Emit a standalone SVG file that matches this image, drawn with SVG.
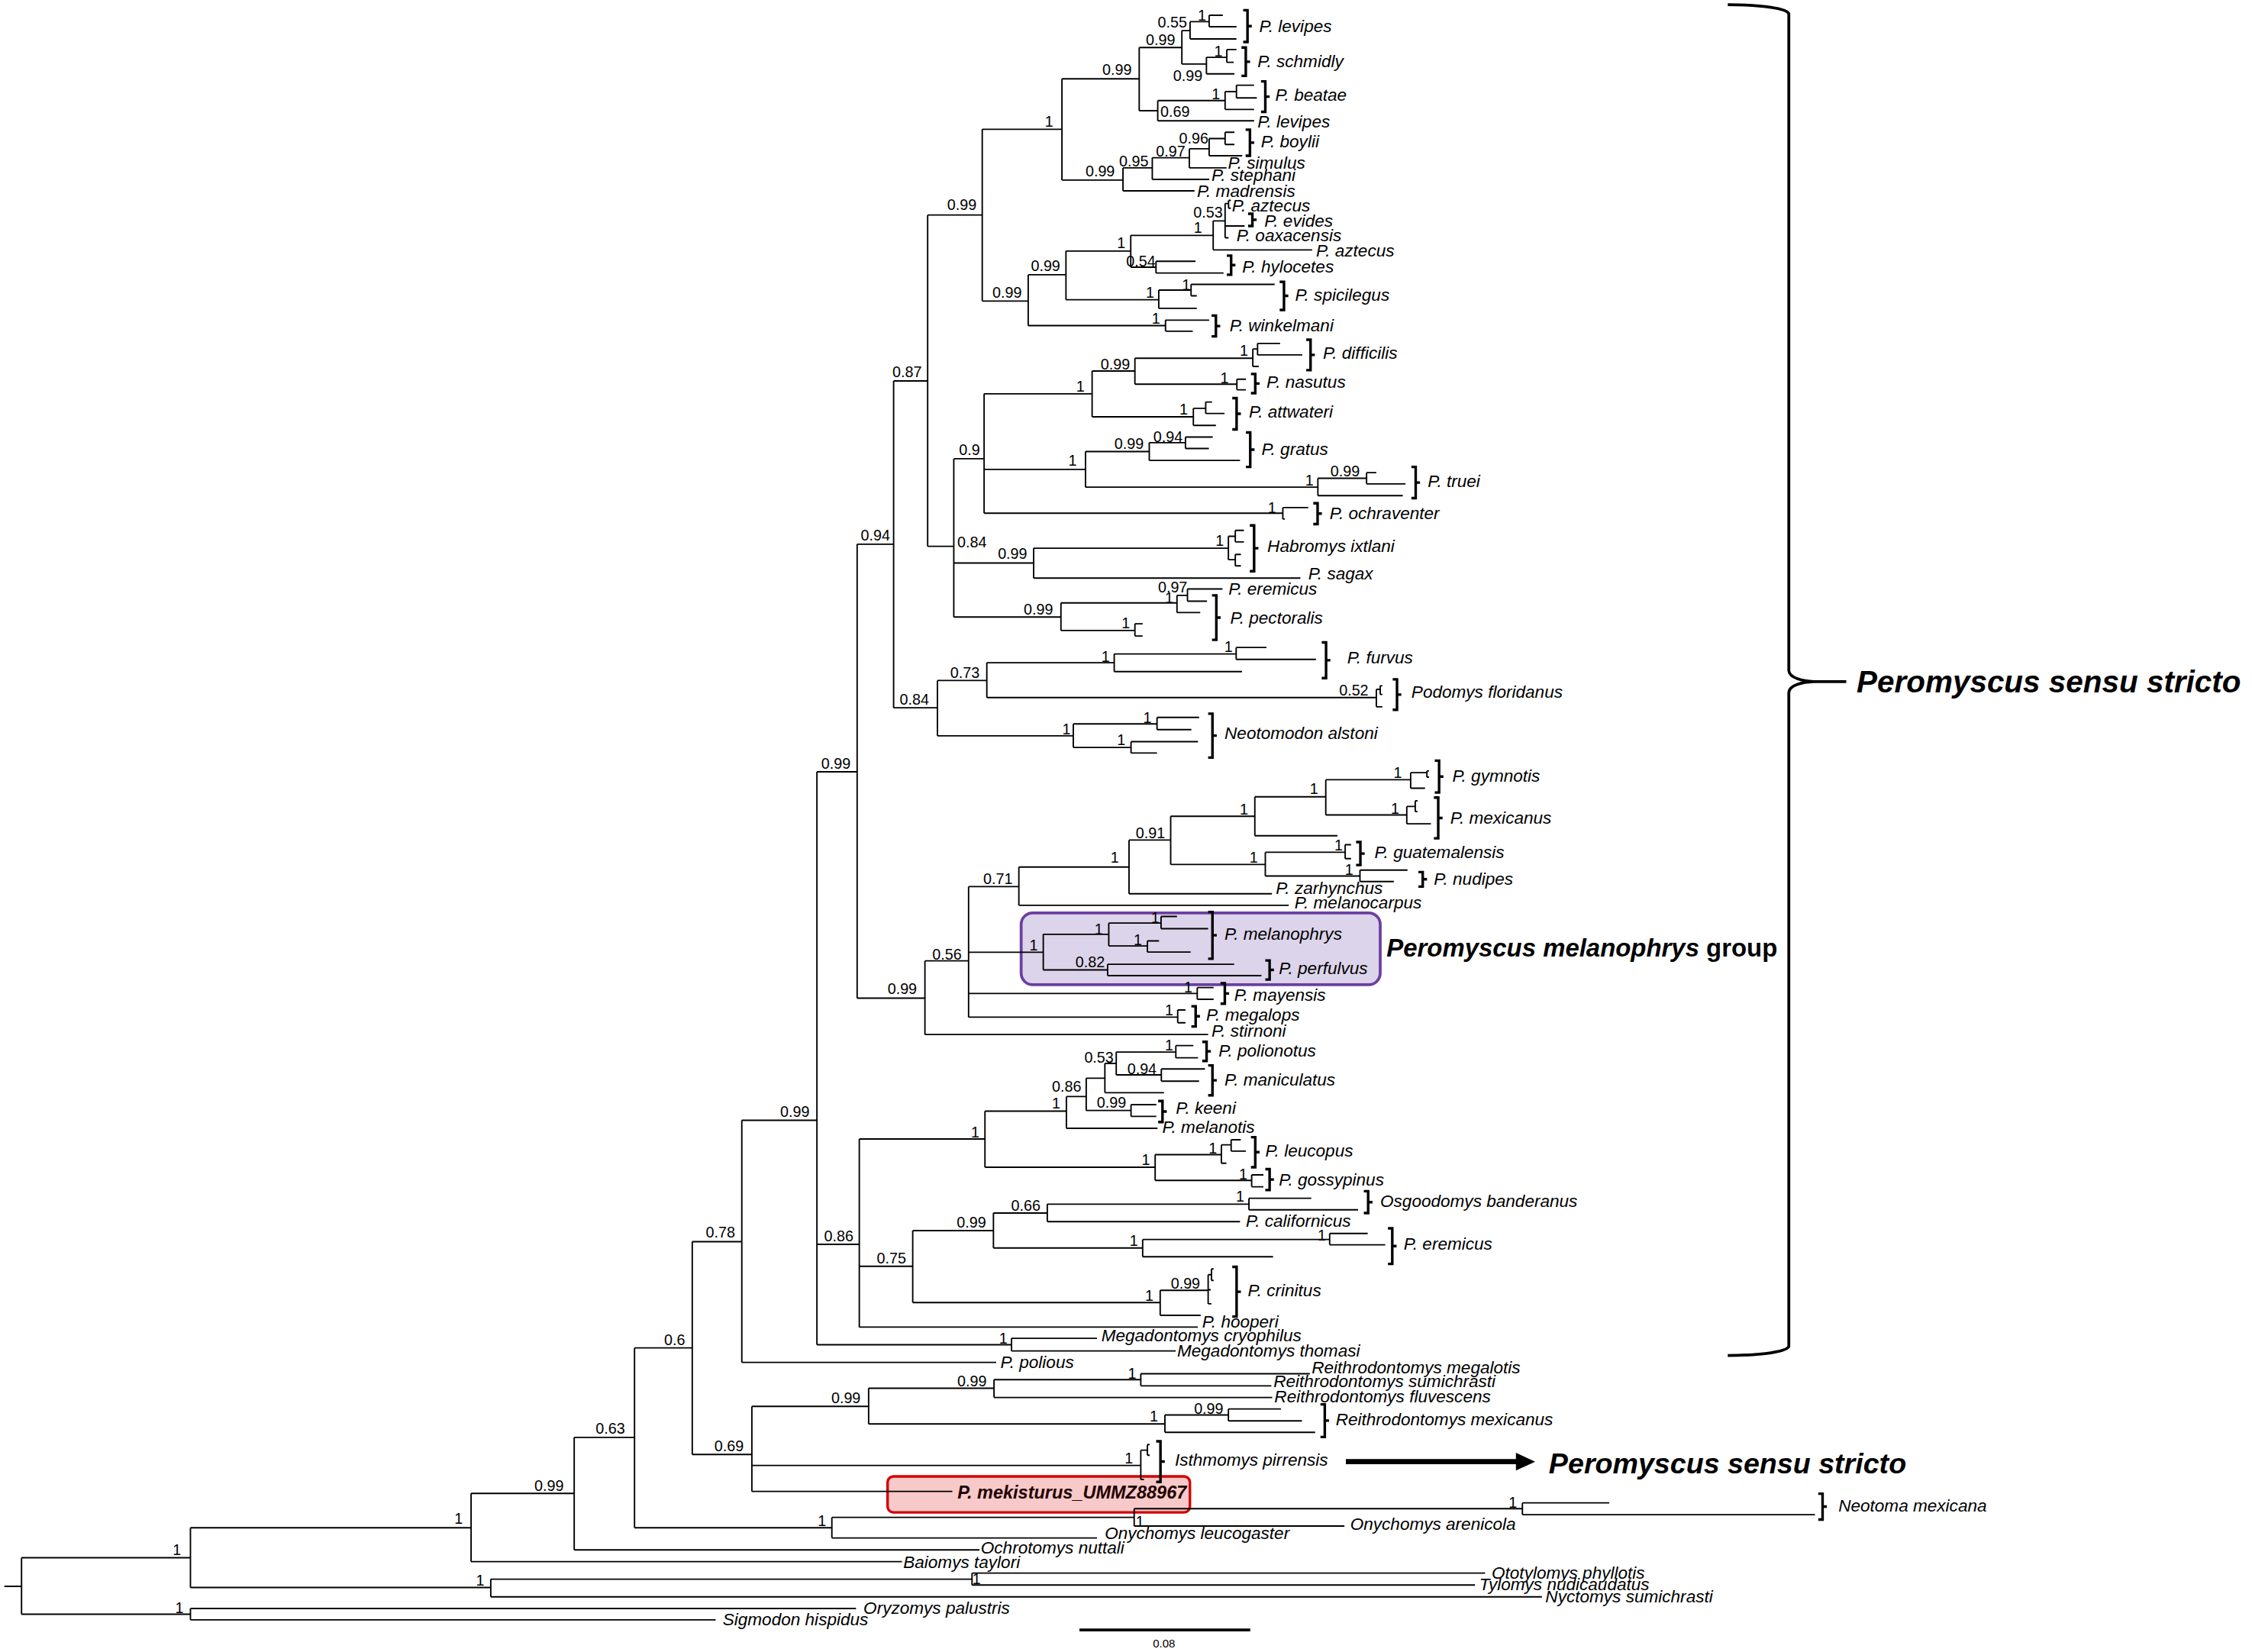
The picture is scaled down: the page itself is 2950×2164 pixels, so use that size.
<svg xmlns="http://www.w3.org/2000/svg" width="2950" height="2164" viewBox="0 0 2950 2164">
<style>
.t{font-family:"Liberation Sans",Arial,sans-serif;font-style:italic;font-size:12px;fill:#000}
.s{font-family:"Liberation Sans",Arial,sans-serif;font-size:10.5px;text-anchor:middle;fill:#000}
.e{fill:none;stroke:#000;stroke-width:1}
.br{fill:none;stroke:#000;stroke-width:1.8}
.big{font-family:"Liberation Sans",Arial,sans-serif;font-weight:bold;font-style:italic;fill:#000}
</style>
<rect width="2950" height="2164" fill="#fff"/>
<g transform="scale(1.88138)">
<g id="boxes">
<rect x="711" y="635.6" width="250" height="50" rx="8" fill="#dcd4ea" stroke="#6b3fa0" stroke-width="2"/>
<rect x="618" y="1028" width="210.5" height="25" rx="4" fill="#f7c9c9" stroke="#d40000" stroke-width="1.8"/>
</g>
<g id="connectors" class="e">
<path d="M3 1104.5H15M15 1084.6V1123.9M15 1084.6H132.6M15 1123.9H132.6M132.6 1063.7V1105.3M132.6 1063.7H328M132.6 1105.3H341.7M132.6 1119.9V1127.8M132.6 1119.9H596M132.6 1127.8H498.3M341.7 1099.5V1111.8M341.7 1099.5H676.8M341.7 1111.8H1073.6M676.8 1095.3V1103.6M676.8 1095.3H1034M676.8 1103.6H1027M328 1039.8V1087.3M328 1039.8H399.8M328 1087.3H628M399.8 1000.8V1079.1M399.8 1000.8H441.8M399.8 1079.1H682M441.8 938.5V1063.7M441.8 938.5H482M441.8 1063.7H579.2M579.2 1056.5V1070.8M579.2 1056.5H789.7M579.2 1070.8H763.8M789.7 1050.4V1062.5M789.7 1050.4H1060M789.7 1062.5H936.1M1060 1046.4V1054.6M1060 1046.4H1120.5M1060 1054.6H1263.7"/>
<path d="M482 864.5V1012.7M482 864.5H516.5M482 1012.7H523.5M523.5 979.2V1038.4M523.5 979.2H604.8M523.5 1020.3H794.3M523.5 1038.4H663.1M604.8 966.6V991.4M604.8 966.6H692.1M604.8 991.4H811.1M692.1 960.6V973M692.1 960.6H794.3M692.1 973H885.8M794.3 956.5V964.9M794.3 956.5H912M794.3 964.9H885.2M811.1 985.2V997.3M811.1 985.2H855.3M811.1 997.3H915.7M855.3 981V989.3M855.3 981H891.9M855.3 989.3H906.5M794.3 1009.7V1030.1M794.3 1009.7H798.9M794.3 1030.1H796.5M798.9 1005.8V1013.2M798.9 1005.8H800.5M798.9 1013.2H800.5"/>
<path d="M516.5 780V948.6M516.5 780H568.8M516.5 948.6H693.6M568.8 537.4V936.3M568.8 537.4H596.8M568.8 866.4H598.3M568.8 936.3H704.3M704.3 931.8V940.6M704.3 931.8H763.8M704.3 940.6H818.6M596.8 378.9V695M596.8 378.9H622.2M596.8 695H644M622.2 265.2V492.8M622.2 265.2H645.9M622.2 492.8H652.7M645.9 149.7V380.4M645.9 149.7H683.9M645.9 380.4H664.1"/>
<path d="M683.9 90V209.6M683.9 90H739.4M683.9 209.6H715.9M739.4 54.9V125.4M739.4 54.9H793.2M739.4 125.4H781.9M793.2 33.1V77.1M793.2 33.1H822.9M793.2 77.1H806.1M822.9 21.3V44.6M822.9 21.3H828.6M822.9 44.6H840M828.6 15.1V27.1M828.6 15.1H841.9M828.6 27.1H860.9M841.9 10.6V18.6M841.9 10.6H851.4M841.9 18.6H860.9M840 39.9V51.4M840 39.9H854.2M840 51.4H859.5M854.2 34.5V43.4M854.2 34.5H860.9M854.2 43.4H859M806.1 70V84.1M806.1 70H853M806.1 84.1H873.2M853 63.8V76.2M853 63.8H860.9M853 76.2H873.2M860.9 59.3V68.2M860.9 59.3H873.2M860.9 68.2H875.1M781.9 116.9V132.9M781.9 116.9H802.3M781.9 132.9H831.7M802.3 109.8V124.9M802.3 109.8H828.1M802.3 124.9H842M828.1 103.6V116.9M828.1 103.6H841.9M828.1 116.9H854M841.9 96.5V108.4M841.9 96.5H853M841.9 108.4H864.9M853 92.1V100.6M853 92.1H859.5M853 100.6H859.5"/>
<path d="M715.9 191.3V226.7M715.9 191.3H742.2M715.9 226.7H811.5M742.2 174.8V208.7M742.2 174.8H787.3M742.2 208.7H806.8M787.3 163.9V186M787.3 163.9H844.7M787.3 186H804.9M844.7 153.8V174M844.7 153.8H853M844.7 174H913.6M853 141.7V165.6M853 141.7H855.4M853 157.3H866.6M853 165.6H855.4M855.4 139.5V145M855.4 139.5H857M855.4 145H857M804.9 181.9V190.1M804.9 181.9H832.4M804.9 190.1H851.9M806.8 202V214.7M806.8 202H829.3M806.8 214.7H833.3M829.3 198V206M829.3 198H887.5M829.3 206H833.3M811.5 222.9V230.6M811.5 222.9H841.9M811.5 230.6H830.5"/>
<path d="M664.1 319.4V429.6M664.1 319.4H685.2M664.1 392H719.7M664.1 429.6H738.7M685.2 274.2V357.3M685.2 274.2H760.4M685.2 326.8H755.8M685.2 357.3H893.2M760.4 258.3V290.2M760.4 258.3H790.2M760.4 290.2H830.9M790.2 249.4V267.5M790.2 249.4H872.3M790.2 267.5H861.2M872.3 243V255.1M872.3 243H875.6M872.3 255.1H876.4M875.6 239.1V247.1M875.6 239.1H891.3M875.6 247.1H906.7M861.2 264V271.4M861.2 264H867.5M861.2 271.4H867.5M830.9 284.3V296.2M830.9 284.3H839.5M830.9 296.2H846.6M839.5 279.9V287.9M839.5 279.9H843.9M839.5 287.9H852.6M755.8 314.4V339.2M755.8 314.4H800.2M755.8 339.2H917.6M800.2 308.2V320.6M800.2 308.2H825.4M800.2 320.6H863.4M825.4 304.3V312.3M825.4 304.3H844.4M825.4 312.3H841.7M917.6 333V345.1M917.6 333H951.5M917.6 345.1H976.7M951.5 329.1V336.9M951.5 329.1H958.3M951.5 336.9H978.6M893.2 353.4V361.4M893.2 353.4H910.9M893.2 361.4H894.6M719.7 381.7V402.5M719.7 381.7H855.3M719.7 402.5H905.4M855.3 373.4V389.7M855.3 373.4H860.1M855.3 389.7H860.1M860.1 369.3V377.3M860.1 369.3H866.1M860.1 377.3H866.1M860.1 386V394M860.1 386H864M860.1 394H864M738.7 419.8V439M738.7 419.8H819.5M738.7 439H790.2M819.5 414.5V426.5M819.5 414.5H826.8M819.5 426.5H835.7M826.8 410.1V418.6M826.8 410.1H851.2M826.8 418.6H840.4M790.2 434.3V442.8M790.2 434.3H795.6M790.2 442.8H795.6"/>
<path d="M652.7 473.8V512.3M652.7 473.8H687.1M652.7 512.3H747.3M687.1 461.4V485.7M687.1 461.4H775.8M687.1 485.7H958.3M775.8 455.3V467.6M775.8 455.3H860.7M775.8 467.6H864.8M860.7 450.8V459.1M860.7 450.8H881.8M860.7 459.1H916.3M958.3 480V492.1M958.3 480H961M958.3 492.1H962.5M961 477.5V483.5M961 477.5H962.5M961 483.5H962.5M747.3 504V520.4M747.3 504H805.6M747.3 520.4H787.5M805.6 499.5V508M805.6 499.5H834.9M805.6 508H829.5M787.5 516.4V524.3M787.5 516.4H834.1M787.5 524.3H805.6"/>
<path d="M644 669V720.3M644 669H674.4M644 720.3H841.2M674.4 617.3V708.2M674.4 617.3H709.4M674.4 663H726.4M674.4 691.7H833.6M674.4 708.2H820M709.4 603.7V630.3M709.4 603.7H786.1M709.4 630.3H897.3M786.1 584.9V622.3M786.1 584.9H815.1M786.1 622.3H885.6M815.1 568.3V601.9M815.1 568.3H873.7M815.1 601.9H881M873.7 554.8V581.9M873.7 554.8H923.1M873.7 581.9H931.2M923.1 542.9V567.4M923.1 542.9H982.2M923.1 567.4H979.5M982.2 538V548.8M982.2 538H993.5M982.2 548.8H992.2M993.5 536.8V541.1M993.5 536.8H995M993.5 541.1H995M979.5 561.5V573.6M979.5 561.5H985.4M979.5 573.6H996.3M985.4 557.6V565.1M985.4 557.6H987M985.4 565.1H987M881 593.4V609.9M881 593.4H936.6M881 609.9H946.9M936.6 588.1V597.8M936.6 588.1H940.7M936.6 597.8H940.7M946.9 605.8V613.8M946.9 605.8H980M946.9 613.8H970.5M726.4 650.5V675.3M726.4 650.5H772M726.4 675.3H771.2M772 642.7V658.6M772 642.7H808.4M772 658.6H798.9M808.4 638.1V646.6M808.4 638.1H819.5M808.4 646.6H841.2M798.9 655.1V662.9M798.9 655.1H807M798.9 662.9H829M771.2 671.4V679.3M771.2 671.4H859.3M771.2 679.3H878.3M833.6 687.6V695.8M833.6 687.6H845M833.6 695.8H845M820 703.2V712.1M820 703.2H825.4M820 712.1H825.4"/>
<path d="M598.3 793V924M598.3 793H685.8M598.3 881.7H635.5M598.3 924H834M685.8 773.6V812.7M685.8 773.6H742.5M685.8 812.7H804.3M742.5 763.5V785.6M742.5 763.5H756.3M742.5 785.6H805.9M756.3 750.7V773.2M756.3 750.7H769.3M756.3 773.2H787.5M769.3 740.4V760.8M769.3 740.4H777.2M769.3 760.8H810.5M777.2 732.5V748.4M777.2 732.5H818.7M777.2 748.4H808.6M818.7 728V736.5M818.7 728H830.9M818.7 736.5H834.1M808.6 744.3V752.8M808.6 744.3H839M808.6 752.8H834.9M787.5 769.1V777.3M787.5 769.1H805.1M787.5 777.3H805.1M804.3 803.9V821.9M804.3 803.9H850.4M804.3 821.9H871.5M850.4 797.1V809.9M850.4 797.1H857.2M850.4 809.9H853.9M857.2 793.6V801.5M857.2 793.6H863.9M857.2 801.5H867.5M871.5 818V826.3M871.5 818H879.7M871.5 826.3H879.7M635.5 856.8V906.9M635.5 856.8H691.7M635.5 906.9H807.8M691.7 844.6V868.9M691.7 844.6H729.2M691.7 868.9H795.6M729.2 838.4V850.6M729.2 838.4H869.6M729.2 850.6H863.4M869.6 834.3V842.3M869.6 834.3H913M869.6 842.3H945.6M795.6 863V875M795.6 863H925.8M795.6 875H886.4M925.8 858.8V866.7M925.8 858.8H952.3M925.8 866.7H964.5M807.8 898.4V915.8M807.8 898.4H841.2M807.8 915.8H836M841.2 887.5V907.8M841.2 887.5H843.5M841.2 898H843M841.2 907.8H843.5M843.5 883.5V891.5M843.5 883.5H845M843.5 891.5H845"/>
</g>
<g id="support-values" class="s">
<text x="836.9" y="14.4">1</text><text x="816.3" y="19.4">0.55</text><text x="808" y="31.3">0.99</text><text x="848.3" y="39.2">1</text><text x="827" y="56.1">0.99</text><text x="777.8" y="52">0.99</text><text x="846.6" y="69.3">1</text><text x="818.2" y="81.2">0.69</text><text x="730.4" y="88.5">1</text><text x="831.2" y="100">0.96</text><text x="815.1" y="108.8">0.97</text><text x="789.5" y="115.9">0.95</text><text x="766" y="122.8">0.99</text><text x="669.7" y="146.3">0.99</text><text x="841.2" y="151.7">0.53</text><text x="834.1" y="162">1</text><text x="780.7" y="173">1</text><text x="794.4" y="185.4">0.54</text><text x="728" y="188.6">0.99</text><text x="825.8" y="202.2">1</text><text x="800.8" y="207.5">1</text><text x="701.2" y="207.2">0.99</text><text x="804.9" y="225.6">1</text>
<text x="866.1" y="247.9">1</text><text x="776.6" y="257.1">0.99</text><text x="852.6" y="266.9">1</text><text x="752.2" y="272.7">1</text><text x="631.6" y="262.8">0.87</text><text x="824.1" y="288.5">1</text><text x="813.2" y="307.6">0.94</text><text x="786.1" y="312.6">0.99</text><text x="675" y="316.8">0.9</text><text x="746.8" y="324.4">1</text><text x="936.6" y="331.5">0.99</text><text x="911.7" y="338.2">1</text><text x="885.6" y="357.2">1</text><text x="609.5" y="376.3">0.94</text><text x="676.8" y="380.9">0.84</text><text x="849.3" y="380.2">1</text><text x="705" y="389.3">0.99</text><text x="816.5" y="412.6">0.97</text><text x="814" y="420.1">1</text><text x="723" y="427.8">0.99</text><text x="783.9" y="437.4">1</text><text x="855.3" y="453.8">1</text><text x="769.8" y="460.8">1</text><text x="671.8" y="471.8">0.73</text><text x="636.6" y="490.7">0.84</text><text x="942.6" y="484.4">0.52</text><text x="798.9" y="503.3">1</text><text x="742.5" y="511.3">1</text><text x="780.7" y="518.9">1</text>
<text x="973.2" y="541.4">1</text><text x="914.9" y="552.9">1</text><text x="971.3" y="566.7">1</text><text x="866.1" y="567.1">1</text><text x="801" y="583.4">0.91</text><text x="932" y="591.9">1</text><text x="872.9" y="600.4">1</text><text x="776.1" y="600.4">1</text><text x="939.3" y="609.3">1</text><text x="694.8" y="615.6">0.71</text><text x="804.3" y="642.4">1</text><text x="765" y="650.4">1</text><text x="792.3" y="657.8">1</text><text x="719.7" y="661.9">1</text><text x="659.4" y="668.1">0.56</text><text x="759" y="673.4">0.82</text><text x="628.2" y="692.3">0.99</text><text x="827.3" y="691.1">1</text><text x="814" y="707">1</text>
<text x="582" y="535.5">0.99</text><text x="814" y="731.5">1</text><text x="765.2" y="739.8">0.53</text><text x="795.1" y="747.8">0.94</text><text x="742.7" y="760.2">0.86</text><text x="735.4" y="772">1</text><text x="773.9" y="771.3">0.99</text><text x="553.5" y="777.5">0.99</text><text x="679" y="792.1">1</text><text x="844.4" y="803">1</text><text x="797.8" y="811.2">1</text><text x="865.6" y="821.3">1</text><text x="863.4" y="836.7">1</text><text x="714.2" y="843.2">0.66</text><text x="676.4" y="854.8">0.99</text><text x="501.6" y="861.6">0.78</text><text x="584" y="864.5">0.86</text><text x="789.4" y="867.3">1</text><text x="920.3" y="863.8">1</text><text x="620.7" y="879.8">0.75</text><text x="825.4" y="897.1">0.99</text><text x="800.2" y="905.8">1</text><text x="698.6" y="935.3">1</text><text x="469.7" y="936.5">0.6</text>
<text x="788.2" y="960">1</text><text x="676.8" y="965.3">0.99</text><text x="589" y="976.8">0.99</text><text x="841.6" y="984.3">0.99</text><text x="803.4" y="989.6">1</text><text x="425" y="998.4">0.63</text><text x="507.6" y="1010.5">0.69</text><text x="786" y="1018.8">1</text><text x="382.3" y="1038.3">0.99</text><text x="1053.4" y="1049.7">1</text><text x="319.3" y="1061">1</text><text x="572.3" y="1062.7">1</text><text x="793.7" y="1063.1">1</text><text x="123.2" y="1082.6">1</text><text x="334.3" y="1103.8">1</text><text x="679.9" y="1102.9">1</text><text x="124.9" y="1123">1</text>
</g>
<g id="taxa">
<g id="t-levipes1"><path class="br" d="M865.6 7.1H868.6V29.2H865.6M868.6 18.2H871.6"/><text class="t" x="876.8" y="22.2">P. levipes</text></g>
<g id="t-schmidly"><path class="br" d="M864.4 33.1H867.4V52.8H864.4M867.4 43H870.4"/><text class="t" x="875.6" y="47">P. schmidly</text></g>
<g id="t-beatae"><path class="br" d="M878 56.7H881V77.9H878M881 67.3H884"/><text class="t" x="887.9" y="70.4">P. beatae</text></g>
<g id="t-levipes2"><text class="t" x="875.6" y="88.7">P. levipes</text></g>
<g id="t-boylii"><path class="br" d="M867.3 90.3H870.3V108.4H867.3M870.3 99.3H873.3"/><text class="t" x="878" y="102.8">P. boylii</text></g>
<g id="t-simulus"><text class="t" x="855" y="117.4">P. simulus</text></g>
<g id="t-stephani"><text class="t" x="843.6" y="126.2">P. stephani</text></g>
<g id="t-madrensis"><text class="t" x="833.4" y="136.9">P. madrensis</text></g>
<g id="t-aztecus1"><text class="t" x="857.8" y="147.1">P. aztecus</text></g>
<g id="t-evides"><path class="br" d="M869 148.8H872V157.3H869M872 153H875"/><text class="t" x="880.3" y="158.1">P. evides</text></g>
<g id="t-oaxacensis"><text class="t" x="860.9" y="168.2">P. oaxacensis</text></g>
<g id="t-aztecus2"><text class="t" x="916.4" y="178.5">P. aztecus</text></g>
<g id="t-hylocetes"><path class="br" d="M854.2 178H857.2V191.3H854.2M857.2 184.6H860.2"/><text class="t" x="864.9" y="190">P. hylocetes</text></g>
<g id="t-spicilegus"><path class="br" d="M891 196.3H894V215.8H891M894 206H897"/><text class="t" x="901.7" y="209.5">P. spicilegus</text></g>
<g id="t-winkelmani"><path class="br" d="M843.6 219.7H846.6V234.2H843.6M846.6 227H849.6"/><text class="t" x="856.1" y="230.7">P. winkelmani</text></g>
<g id="t-difficilis"><path class="br" d="M909.5 236.5H912.5V257.7H909.5M912.5 247.1H915.5"/><text class="t" x="921.2" y="249.9">P. difficilis</text></g>
<g id="t-nasutus"><path class="br" d="M871 260.4H874V273.7H871M874 267H877"/><text class="t" x="881.8" y="270.2">P. nasutus</text></g>
<g id="t-attwateri"><path class="br" d="M858 277.2H861V299H858M861 288.1H864"/><text class="t" x="869.6" y="291">P. attwateri</text></g>
<g id="t-gratus"><path class="br" d="M867.5 301.1H870.5V325.1H867.5M870.5 313.1H873.5"/><text class="t" x="878.3" y="316.7">P. gratus</text></g>
<g id="t-truei"><path class="br" d="M982.7 325.1H985.7V346.8H982.7M985.7 336H988.7"/><text class="t" x="994.1" y="339.2">P. truei</text></g>
<g id="t-ochraventer"><path class="br" d="M914.4 350.4H917.4V364.9H914.4M917.4 357.6H920.4"/><text class="t" x="925.8" y="361.3">P. ochraventer</text></g>
<g id="t-habromys"><path class="br" d="M870.2 365.8H873.2V397.7H870.2M873.2 381.7H876.2"/><text class="t" x="882.4" y="384.3">Habromys ixtlani</text></g>
<g id="t-sagax"><text class="t" x="910.9" y="403.5">P. sagax</text></g>
<g id="t-eremicus1"><text class="t" x="855.3" y="414.1">P. eremicus</text></g>
<g id="t-pectoralis"><path class="br" d="M843.9 414.5H846.9V445.5H843.9M846.9 430H849.9"/><text class="t" x="856.6" y="434.1">P. pectoralis</text></g>
<g id="t-furvus"><path class="br" d="M920.3 447.3H923.3V472.1H920.3M923.3 459.7H926.3"/><text class="t" x="938" y="461.9">P. furvus</text></g>
<g id="t-podomys"><path class="br" d="M969.7 473H972.7V494.2H969.7M972.7 483.6H975.7"/><text class="t" x="982.7" y="485.8">Podomys floridanus</text></g>
<g id="t-neotomodon"><path class="br" d="M841.2 496.9H844.2V527.5H841.2M844.2 512.2H847.2"/><text class="t" x="852.6" y="514.7">Neotomodon alstoni</text></g>
<g id="t-gymnotis"><path class="br" d="M999 529.6H1002V551.8H999M1002 540.7H1005"/><text class="t" x="1011.2" y="544.3">P. gymnotis</text></g>
<g id="t-mexicanus"><path class="br" d="M998.4 555.3H1001.4V583.7H998.4M1001.4 569.5H1004.4"/><text class="t" x="1009.8" y="573.5">P. mexicanus</text></g>
<g id="t-guatemalensis"><path class="br" d="M944.2 586.3H947.2V602.3H944.2M947.2 594.3H950.2"/><text class="t" x="957" y="597.4">P. guatemalensis</text></g>
<g id="t-nudipes"><path class="br" d="M987.6 607.2H990.6V617.3H987.6M990.6 612.2H993.6"/><text class="t" x="998.4" y="616">P. nudipes</text></g>
<g id="t-zarhynchus"><text class="t" x="888.3" y="622.2">P. zarhynchus</text></g>
<g id="t-melanocarpus"><text class="t" x="901.4" y="632.5">P. melanocarpus</text></g>
<g id="t-melanophrys"><path class="br" d="M841.2 635H844.2V667.5H841.2M844.2 651.2H847.2"/><text class="t" x="852.6" y="654.1">P. melanophrys</text></g>
<g id="t-perfulvus"><path class="br" d="M881 668.7H884V682H881M884 675.3H887"/><text class="t" x="890.5" y="678">P. perfulvus</text></g>
<g id="t-mayensis"><path class="br" d="M849.8 684.6H852.8V698.8H849.8M852.8 691.7H855.8"/><text class="t" x="859.3" y="696.6">P. mayensis</text></g>
<g id="t-megalops"><path class="br" d="M829.5 700.6H832.5V714.7H829.5M832.5 707.6H835.5"/><text class="t" x="839.8" y="710.4">P. megalops</text></g>
<g id="t-stirnoni"><text class="t" x="843.6" y="721.9">P. stirnoni</text></g>
<g id="t-polionotus"><path class="br" d="M837.1 725.4H840.1V738.7H837.1M840.1 732H843.1"/><text class="t" x="848.5" y="735.9">P. polionotus</text></g>
<g id="t-maniculatus"><path class="br" d="M841.2 741.8H844.2V762.6H841.2M844.2 752.2H847.2"/><text class="t" x="852.6" y="756">P. maniculatus</text></g>
<g id="t-keeni"><path class="br" d="M806.4 766.6H809.4V781.2H806.4M809.4 773.9H812.4"/><text class="t" x="818.7" y="775.4">P. keeni</text></g>
<g id="t-melanotis"><text class="t" x="809.2" y="788.7">P. melanotis</text></g>
<g id="t-leucopus"><path class="br" d="M871 791.8H874V812.7H871M874 802.2H877"/><text class="t" x="881" y="805.5">P. leucopus</text></g>
<g id="t-gossypinus"><path class="br" d="M881 814H884V828.6H881M884 821.3H887"/><text class="t" x="890.5" y="825.4">P. gossypinus</text></g>
<g id="t-osgoodomys"><path class="br" d="M949.6 829.4H952.6V844.6H949.6M952.6 837H955.6"/><text class="t" x="961" y="840.1">Osgoodomys banderanus</text></g>
<g id="t-californicus"><text class="t" x="867.5" y="854.2">P. californicus</text></g>
<g id="t-eremicus2"><path class="br" d="M966.4 855.2H969.4V880H966.4M969.4 867.6H972.4"/><text class="t" x="977.3" y="870.2">P. eremicus</text></g>
<g id="t-crinitus"><path class="br" d="M858 882.1H861V916.7H858M861 899.4H864"/><text class="t" x="868.8" y="902.4">P. crinitus</text></g>
<g id="t-hooperi"><text class="t" x="837" y="924.2">P. hooperi</text></g>
<g id="t-cryophilus"><text class="t" x="766.8" y="934">Megadontomys cryophilus</text></g>
<g id="t-thomasi"><text class="t" x="819.6" y="944.6">Megadontomys thomasi</text></g>
<g id="t-polious"><text class="t" x="696.6" y="952.6">P. polious</text></g>
<g id="t-megalotis"><text class="t" x="913.3" y="956.1">Reithrodontomys megalotis</text></g>
<g id="t-sumichrasti"><text class="t" x="886.7" y="965.9">Reithrodontomys sumichrasti</text></g>
<g id="t-fluvescens"><text class="t" x="887.3" y="976.5">Reithrodontomys fluvescens</text></g>
<g id="t-rmexicanus"><path class="br" d="M919.4 977.8H922.4V1000.5H919.4M922.4 989.1H925.4"/><text class="t" x="930" y="992.1">Reithrodontomys mexicanus</text></g>
<g id="t-isthmomys"><path class="br" d="M805 1003.5H808V1031.8H805M808 1017.6H811"/><text class="t" x="818" y="1020.8">Isthmomys pirrensis</text></g>
<g id="t-mekisturus"><text x="666.7" y="1043.2" font-family="Liberation Sans, Arial, sans-serif" font-weight="bold" font-style="italic" font-size="12.5" fill="#200000">P. mekisturus_UMMZ88967</text></g>
<g id="t-arenicola"><text class="t" x="940.1" y="1065">Onychomys arenicola</text></g>
<g id="t-leucogaster"><text class="t" x="769.2" y="1071.3">Onychomys leucogaster</text></g>
<g id="t-neotoma"><path class="br" d="M1266 1040H1269V1058H1266M1269 1049H1272"/><text class="t" x="1280" y="1052.5">Neotoma mexicana</text></g>
<g id="t-ochrotomys"><text class="t" x="682.9" y="1081.9">Ochrotomys nuttali</text></g>
<g id="t-baiomys"><text class="t" x="628.9" y="1091.6">Baiomys taylori</text></g>
<g id="t-ototylomys"><text class="t" x="1038.6" y="1099.3">Ototylomys phyllotis</text></g>
<g id="t-tylomys"><text class="t" x="1030" y="1107.4">Tylomys nudicaudatus</text></g>
<g id="t-nyctomys"><text class="t" x="1076" y="1115.8">Nyctomys sumichrasti</text></g>
<g id="t-oryzomys"><text class="t" x="601.2" y="1123.9">Oryzomys palustris</text></g>
<g id="t-sigmodon"><text class="t" x="503.2" y="1131.8">Sigmodon hispidus</text></g>
</g>
<g id="group-labels">
<text class="big" x="965.4" y="666" font-size="17.5">Peromyscus melanophrys<tspan font-style="normal"> group</tspan></text>
<path d="M1203 3.2C1228 3.4 1244 6 1245.5 9.5V467C1246 472 1255 474.3 1263 474.6H1285.5M1263 474.6C1255 474.9 1246 477 1245.5 482V937.5C1244 941 1228 943.6 1203 943.8" fill="none" stroke="#000" stroke-width="2"/>
<text class="big" x="1292.7" y="482" font-size="21.5">Peromyscus sensu stricto</text>
<path d="M937.1 1015.9H1055.5V1011.5L1068.9 1017.7L1055.5 1023.9V1019.4H937.1Z" fill="#000"/>
<text class="big" x="1078.4" y="1026" font-size="20">Peromyscus sensu stricto</text>
</g>
<g id="scale-bar">
<path d="M751.6 1134.9H870.5" stroke="#000" stroke-width="2"/>
<text x="810.5" y="1147" font-family="Liberation Sans, Arial, sans-serif" font-size="8" text-anchor="middle">0.08</text>
</g>
</g>
</svg>
